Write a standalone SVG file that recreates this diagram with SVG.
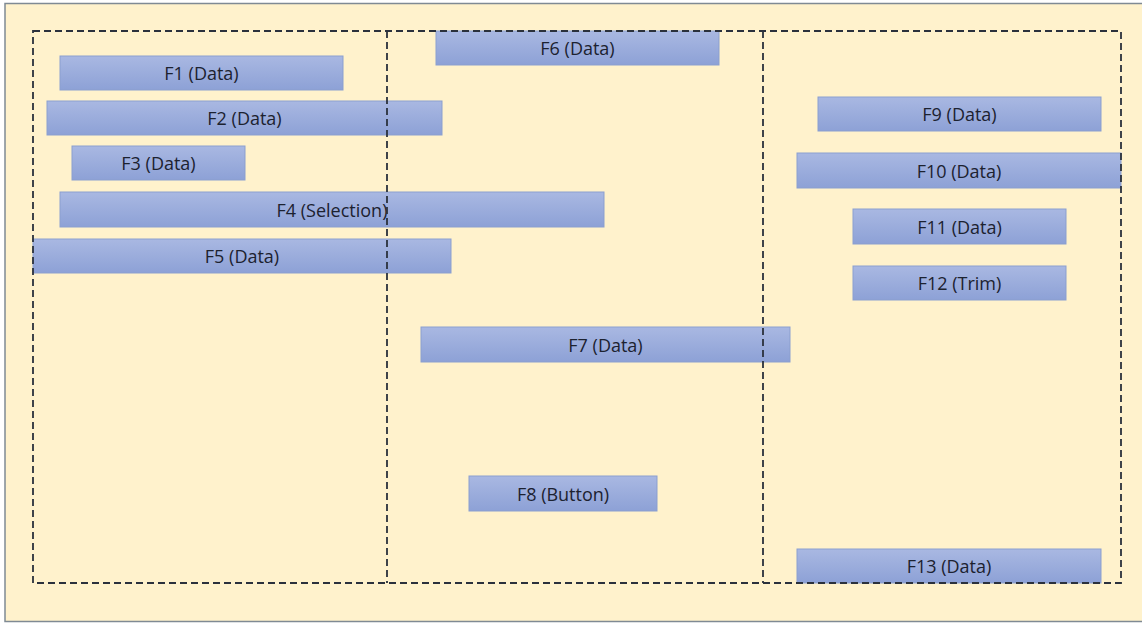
<svg xmlns="http://www.w3.org/2000/svg" width="1142" height="623" viewBox="0 0 1142 623">
  <defs>
    <linearGradient id="barFill" x1="0" y1="0" x2="0" y2="1">
      <stop offset="0" stop-color="#a9b8e2"/>
      <stop offset="1" stop-color="#8da1d6"/>
    </linearGradient>
    <style>
      .bar { fill: url(#barFill); stroke: #8b9fcf; stroke-width: 1; }
      .lbl { font-family: "Open Sans", Lato, sans-serif; font-size: 18px; fill: #1c2230; text-anchor: middle; dominant-baseline: central; }
      .zone { fill: none; stroke: #2b313c; stroke-width: 1.8; stroke-dasharray: 7 4; }
    </style>
  </defs>

  <!-- canvas -->
  <rect x="0" y="0" width="1142" height="623" fill="#ffffff"/>
  <rect x="5" y="3.5" width="1140" height="618" fill="#fff2cc" stroke="#7f8a94" stroke-width="1.5"/>

  <!-- form fields -->
  <g id="F1"><rect class="bar" x="60" y="56" width="283" height="34"/><text class="lbl" x="201.5" y="73">F1 (Data)</text></g>
  <g id="F2"><rect class="bar" x="47" y="101" width="395" height="34"/><text class="lbl" x="244.5" y="118">F2 (Data)</text></g>
  <g id="F3"><rect class="bar" x="72" y="146" width="173" height="34"/><text class="lbl" x="158.5" y="163">F3 (Data)</text></g>
  <g id="F4"><rect class="bar" x="60" y="192" width="544" height="35"/><text class="lbl" x="332" y="209.5">F4 (Selection)</text></g>
  <g id="F5"><rect class="bar" x="33" y="239" width="418" height="34"/><text class="lbl" x="242" y="256">F5 (Data)</text></g>
  <g id="F6"><rect class="bar" x="436" y="31" width="283" height="34"/><text class="lbl" x="577.5" y="48">F6 (Data)</text></g>
  <g id="F7"><rect class="bar" x="421" y="327" width="369" height="35"/><text class="lbl" x="605.5" y="344.5">F7 (Data)</text></g>
  <g id="F8"><rect class="bar" x="469" y="476" width="188" height="35"/><text class="lbl" x="563" y="493.5">F8 (Button)</text></g>
  <g id="F9"><rect class="bar" x="818" y="97" width="283" height="34"/><text class="lbl" x="959.5" y="114">F9 (Data)</text></g>
  <g id="F10"><rect class="bar" x="797" y="153" width="324" height="35"/><text class="lbl" x="959" y="170.5">F10 (Data)</text></g>
  <g id="F11"><rect class="bar" x="853" y="209" width="213" height="35"/><text class="lbl" x="959.5" y="226.5">F11 (Data)</text></g>
  <g id="F12"><rect class="bar" x="853" y="266" width="213" height="34"/><text class="lbl" x="959.5" y="283">F12 (Trim)</text></g>
  <g id="F13"><rect class="bar" x="797" y="549" width="304" height="34"/><text class="lbl" x="949" y="566">F13 (Data)</text></g>

  <!-- column outlines drawn over the fields -->
  <g id="columns">
    <rect class="zone" x="33" y="31" width="1088" height="552"/>
    <line class="zone" x1="387" y1="31" x2="387" y2="583"/>
    <line class="zone" x1="763" y1="31" x2="763" y2="583"/>
  </g>
</svg>
